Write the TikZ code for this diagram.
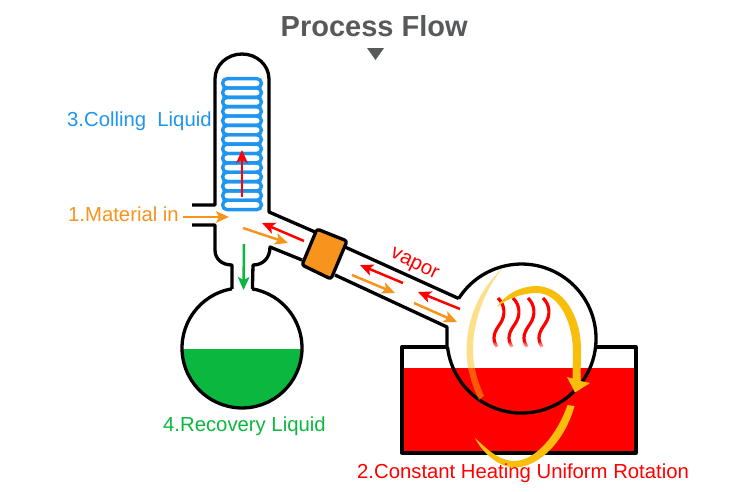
\documentclass[tikz,border=0pt]{standalone}
\usepackage{fontspec}
\setmainfont{Liberation Sans}
\usetikzlibrary{arrows.meta,fadings}
\definecolor{coilblue}{HTML}{1E96F0}
\definecolor{feedorange}{HTML}{F7941D}
\definecolor{hotred}{HTML}{FF0000}
\definecolor{liquidgreen}{HTML}{0BB83F}
\definecolor{bandgold}{HTML}{F9BE0B}
\definecolor{titlegrey}{HTML}{58595B}
\tikzset{
  glass/.style={draw=black,line width=3.3pt,line join=round},
  flowarrow/.style={line width=2.5pt,-{Stealth[length=13pt,width=11.5pt,inset=3pt]}},
  coilloop/.style={draw=coilblue,line width=3.4pt,rounded corners=4.6pt},
  wave/.style={draw=hotred,line width=3.2pt},
  lbl/.style={inner sep=0pt,anchor=base west,font=\fontsize{20.3}{20.3}\selectfont}
}
\begin{document}
\begin{tikzpicture}[x=1pt,y=-1pt]
\useasboundingbox[fill=white] (0,0) rectangle (750,491);

% heating bath
\fill[hotred] (402,368) rectangle (636,453);
\draw[glass] (447,347) -- (402,347) -- (402,453) -- (636,453) -- (636,347) -- (594,347);

% cooling coil
\foreach \n in {0,...,13}
  \draw[coilloop] (222.6,78.6+9.36*\n) rectangle (261.4,78.6+9.36+9.36*\n);

% condenser, side inlet and lower neck
\draw[glass] (192,205) -- (215,205) -- (215,79)
  arc[start angle=180,end angle=0,x radius=27pt,y radius=25pt]
  -- (269,212) -- (315,232);
\draw[glass] (192,225) -- (215,225) -- (215,250)
  .. controls (215,259) and (222,265) .. (232,265) -- (232,288.8);
\draw[glass] (302,260) -- (270,247)
  .. controls (270,258) and (263,265) .. (253,265) -- (252.4,288.8);

% receiving flask
\begin{scope}
  \clip (242,348) circle[radius=60pt];
  \fill[liquidgreen] (170,349) rectangle (310,420);
\end{scope}
\draw[glass] (232,288.8)
  arc[start angle=99.6,end angle=440.4,radius=60pt];

% vapor duct
\draw[glass] (345,247) -- (458.7,298.5);
\draw[glass] (335,275) -- (447,327) -- (447,347);

% joint collar
\draw[glass,fill=feedorange,rounded corners=2.5pt]
  (317,229) -- (347,241) -- (331,279) -- (302,265) -- cycle;

% evaporating flask
\draw[glass] (458.7,298.5) arc[start angle=147.5,end angle=-173.5,radius=74.5pt];

% rising heat
\foreach \dx in {0,15,30,45}
  \draw[wave] (498+\dx,298) .. controls (505+\dx,305) and (506+\dx,315) .. (500+\dx,324)
    .. controls (495+\dx,331) and (491+\dx,338) .. (497+\dx,347);
\fill[white,path fading=north] (488,341) rectangle (556,349);

% rotation band, far side
\fill[bandgold,opacity=.48] (502,269)
  .. controls (480,288) and (466,320) .. (466.5,352)
  .. controls (467,370) and (472,385) .. (479,400)
  -- (484,396)
  .. controls (477,380) and (473,366) .. (473,350)
  .. controls (473,320) and (485,290) .. (502,269) -- cycle;

% rotation band, near side
\fill[bandgold] (497,307)
  .. controls (505,294) and (521,286) .. (537,286)
  .. controls (563,287) and (581,315) .. (581,350)
  -- (580.5,381) -- (590,383) -- (575,392.5) -- (567,377) -- (572.5,378.5) -- (573,350)
  .. controls (572,318) and (557,293) .. (537,293)
  .. controls (523,293) and (508,298) .. (497,307) -- cycle;
\fill[bandgold] (567.5,405) -- (574.5,406)
  .. controls (565,440) and (540,468) .. (513,467.5)
  .. controls (497,466) and (482,452) .. (475,438)
  .. controls (485,447) and (498,461) .. (515,461)
  .. controls (536,460) and (557,435) .. (567.5,405) -- cycle;

% flow directions
\draw[flowarrow,hotred] (242,197) -- (242,150);
\draw[flowarrow,feedorange] (183,217) -- (229,217);
\draw[flowarrow,feedorange] (243,228) -- (288,243);
\draw[flowarrow,hotred] (304,241) -- (262,223);
\draw[flowarrow,liquidgreen] (244,244) -- (243.5,290);
\draw[flowarrow,hotred] (403,283) -- (360,265);
\draw[flowarrow,feedorange] (352,275) -- (395,293);
\draw[flowarrow,hotred] (460,309) -- (418,292);
\draw[flowarrow,feedorange] (414,303) -- (457,322);

% heading
\node[inner sep=0pt,anchor=base west,text=titlegrey,font=\fontsize{29}{29}\selectfont\bfseries] (heading) at (280.5,36) {Process Flow};
\fill[titlegrey] (367,48) -- (384,48) -- (375.5,60) -- cycle;

% labels
\node[lbl,text=coilblue] (coillabel) at (67,126.5) {3.Colling\ \ Liquid};
\node[lbl,text=feedorange] (feedlabel) at (68,221) {1.Material in};
\node[lbl,text=liquidgreen] (recoverylabel) at (163,431.5) {4.Recovery Liquid};
\node[lbl,text=hotred] (heatlabel) at (357,478.5) {2.Constant Heating Uniform Rotation};
\node[inner sep=0pt,text=hotred,rotate=-26,font=\fontsize{20.3}{20.3}\selectfont] (vaporlabel) at (414,265) {vapor};
\end{tikzpicture}
\end{document}
